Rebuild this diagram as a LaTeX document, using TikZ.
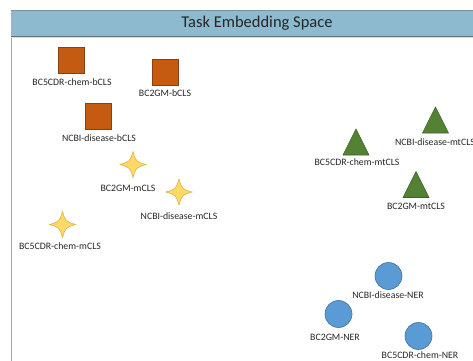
\documentclass[tikz,border=0pt]{standalone}
\usepackage{fontspec}
\setmainfont{Carlito}
\definecolor{hdrfill}{HTML}{8DBACE}
\definecolor{hdrline}{HTML}{7F8F96}
\definecolor{frameline}{HTML}{A6A6A6}
\definecolor{orgfill}{HTML}{C55A11}
\definecolor{orgline}{HTML}{8A3F10}
\definecolor{yelfill}{HTML}{FFD966}
\definecolor{yelline}{HTML}{D9B44A}
\definecolor{grnfill}{HTML}{548235}
\definecolor{grnline}{HTML}{3F6327}
\definecolor{blufill}{HTML}{5B9BD5}
\definecolor{bluline}{HTML}{41719C}
\tikzset{
  lab/.style={font=\fontsize{9.8}{11}\selectfont, inner sep=0pt, text=black!85},
  sqbox/.style={rectangle, minimum size=26pt, inner sep=0pt, fill=orgfill, draw=orgline, line width=0.6pt},
  circbox/.style={circle, minimum size=27pt, inner sep=0pt, fill=blufill, draw=bluline, line width=0.6pt},
  starpic/.pic={\path[fill=yelfill, draw=yelline, line width=0.6pt]
     (0,-13) .. controls (3,-3) .. (13,0) .. controls (3,3) .. (0,13)
     .. controls (-3,3) .. (-13,0) .. controls (-3,-3) .. cycle;},
  tripic/.pic={\path[fill=grnfill, draw=grnline, line width=0.6pt]
     (-13,13) -- (0,-13) -- (13,13) -- cycle;}
}
\begin{document}
\begin{tikzpicture}[x=1pt,y=-1pt]
\useasboundingbox (0,0) rectangle (473,360);
\clip (0,0) rectangle (473,360);
% frame and header
\draw[frameline, line width=1pt] (11,10) -- (11,370);
\fill[hdrfill] (11,10) rectangle (480,36);
\draw[hdrline, line width=0.8pt] (11,10) -- (480,10);
\draw[hdrline!80!black, line width=0.8pt] (11,36) -- (480,36);
\draw[frameline!40, line width=0.6pt] (11,37.5) -- (480,37.5);
\node[font=\fontsize{16.5}{18}\selectfont, inner sep=0pt, text=black!85] (title) at (257,23) {Task Embedding Space};
% bCLS squares
\node[sqbox] (b1) at (71.5,60) {};
\node[lab] (b1l) at (72,82) {BC5CDR-chem-bCLS};
\node[sqbox] (b2) at (165,72.5) {};
\node[lab] (b2l) at (165,93) {BC2GM-bCLS};
\node[sqbox] (b3) at (98.5,116.5) {};
\node[lab] (b3l) at (99,138) {NCBI-disease-bCLS};
% mCLS stars
\pic (m1) at (133,164.5) {starpic};
\node[lab] (m1l) at (128,188) {BC2GM-mCLS};
\pic (m2) at (179,192) {starpic};
\node[lab] (m2l) at (179,216) {NCBI-disease-mCLS};
\pic (m3) at (62.5,224.5) {starpic};
\node[lab] (m3l) at (60,246) {BC5CDR-chem-mCLS};
% mtCLS triangles
\pic (t1) at (435.5,120) {tripic};
\node[lab] (t1l) at (435,142) {NCBI-disease-mtCLS};
\pic (t2) at (356,142) {tripic};
\node[lab] (t2l) at (357,162) {BC5CDR-chem-mtCLS};
\pic (t3) at (416,184.5) {tripic};
\node[lab] (t3l) at (416,206) {BC2GM-mtCLS};
% NER circles
\node[circbox] (n1) at (388.5,276) {};
\node[lab] (n1l) at (388,295) {NCBI-disease-NER};
\node[circbox] (n2) at (338.5,314) {};
\node[lab] (n2l) at (335,337) {BC2GM-NER};
\node[circbox] (n3) at (418.5,336) {};
\node[lab] (n3l) at (420,355.5) {BC5CDR-chem-NER};
\end{tikzpicture}
\end{document}
